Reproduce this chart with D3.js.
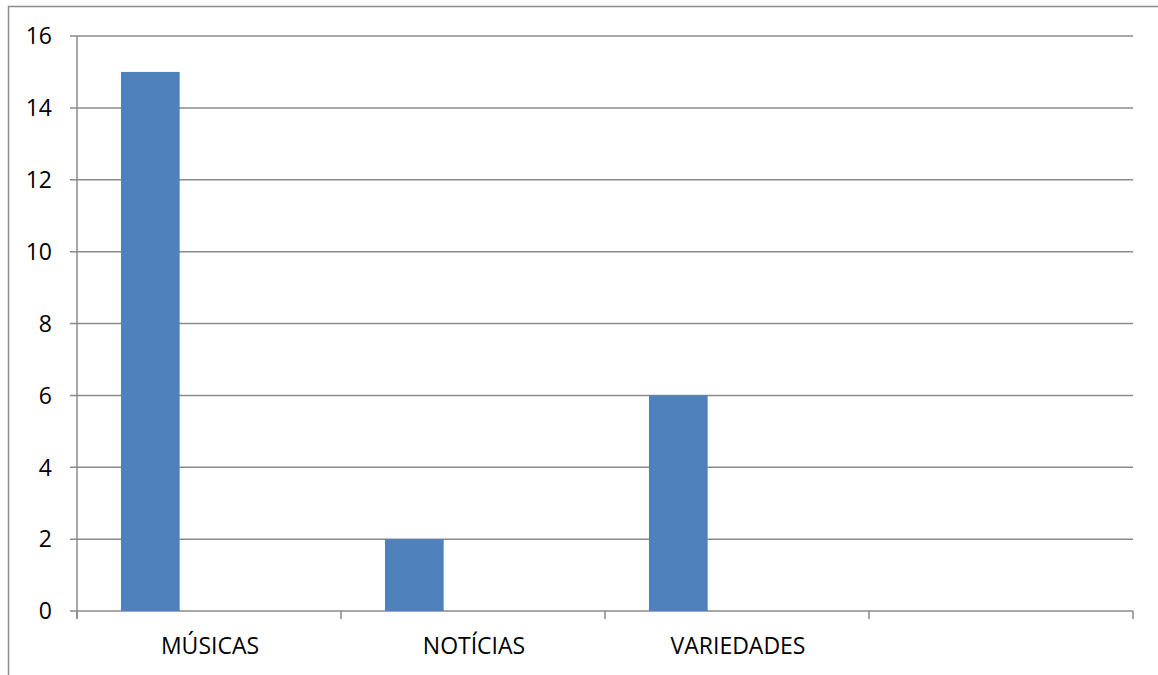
<!DOCTYPE html>
<html>
<head>
<meta charset="utf-8">
<script src="https://d3js.org/d3.v7.min.js"></script>
<style>
  body { margin: 0; background: #ffffff; }
  svg text { font-family: "Open Sans", Lato, sans-serif; fill: #000; }
</style>
</head>
<body>
<div id="chart"></div>
<script>
var w = 1158;
var h = 675;

// categories (the 4th slot is empty in the original)
var categories = ["MÚSICAS", "NOTÍCIAS", "VARIEDADES", ""];
// three series per category, only the first one has values
var series = ["S1", "S2", "S3"];
var values1 = [15, 2, 6, null];
var values2 = [null, null, null, null];
var values3 = [null, null, null, null];
var yTicks = [0, 2, 4, 6, 8, 10, 12, 14, 16];

var margin = {left: 77, right: 25, top: 36, bottom: 64};

var svg = d3.select("#chart").append("svg")
    .attr("width", w)
    .attr("height", h);

// outer chart border, clipped by the window on right and bottom
svg.append("rect")
    .attr("x", 8.5).attr("y", 6.5)
    .attr("width", w + 20).attr("height", h + 20)
    .attr("fill", "none")
    .attr("stroke", "#8c8c8c")
    .attr("stroke-width", 1.5);

var x = d3.scaleBand()
    .domain(d3.range(categories.length))
    .range([margin.left, w - margin.right])
    .paddingInner(0).paddingOuter(0);

// Excel-like gap width of 150%
var bw = x.bandwidth() / (series.length + 1.5);

var y = d3.scaleLinear()
    .domain([0, 16])
    .range([h - margin.bottom, margin.top]);

// gridlines
svg.append("g").selectAll("line")
    .data(yTicks)
    .enter().append("line")
    .attr("x1", margin.left - 7)
    .attr("x2", w - margin.right)
    .attr("y1", function(d) { return y(d); })
    .attr("y2", function(d) { return y(d); })
    .attr("stroke", "#8a8a8a")
    .attr("stroke-width", 1.5);

// y axis line
svg.append("line")
    .attr("x1", margin.left).attr("x2", margin.left)
    .attr("y1", margin.top).attr("y2", h - margin.bottom + 8)
    .attr("stroke", "#8a8a8a")
    .attr("stroke-width", 1.5);

// category ticks
var edges = d3.range(categories.length + 1).map(function(i) {
    return margin.left + i * x.step();
});
svg.append("g").selectAll("line")
    .data(edges)
    .enter().append("line")
    .attr("x1", function(d) { return d; })
    .attr("x2", function(d) { return d; })
    .attr("y1", h - margin.bottom)
    .attr("y2", h - margin.bottom + 8)
    .attr("stroke", "#8a8a8a")
    .attr("stroke-width", 1.5);

// bars
[values1, values2, values3].forEach(function(vals, s) {
    var pts = vals.map(function(v, i) { return {i: i, v: v}; })
                  .filter(function(d) { return d.v != null; });
    svg.append("g").selectAll("rect")
        .data(pts)
        .enter().append("rect")
        .attr("x", function(d) { return x(d.i) + bw * 0.75 + s * bw; })
        .attr("y", function(d) { return y(d.v); })
        .attr("width", bw)
        .attr("height", function(d) { return y(0) - y(d.v); })
        .attr("fill", "#4f81bd");
});

// y labels
svg.append("g").selectAll("text")
    .data(yTicks)
    .enter().append("text")
    .attr("x", 52)
    .attr("y", function(d) { return y(d); })
    .attr("dy", "0.36em")
    .attr("text-anchor", "end")
    .attr("font-size", 23)
    .text(function(d) { return d; });

// x labels
svg.append("g").selectAll("text")
    .data(categories)
    .enter().append("text")
    .attr("x", function(d, i) { return x(i) + x.bandwidth() / 2 + 1; })
    .attr("y", 654)
    .attr("text-anchor", "middle")
    .attr("font-size", 23)
    .text(function(d) { return d; });
</script>
</body>
</html>
